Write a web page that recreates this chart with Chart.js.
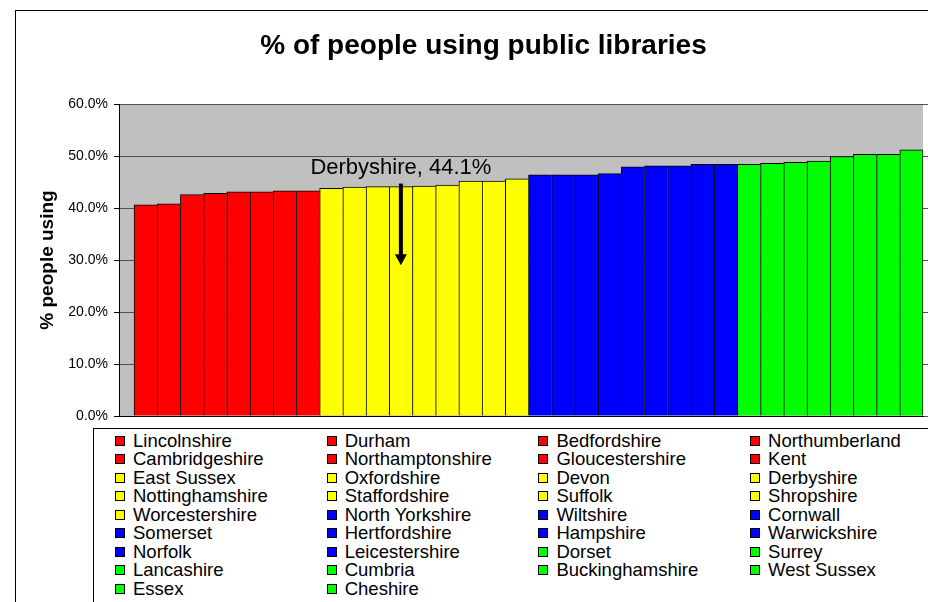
<!DOCTYPE html>
<html>
<head>
<meta charset="utf-8">
<script src="https://cdn.jsdelivr.net/npm/chart.js@4"></script>
<style>
  body { margin: 0; background: #fff; font-family: "Liberation Sans", Arial, sans-serif; }
  #wrap { position: relative; width: 928px; height: 602px; overflow: hidden; }
  #chart { position: absolute; left: 0; top: 0; }
  #frame { position: absolute; left: 15px; top: 10px; width: 1000px; height: 700px;
           border-left: 1px solid #000; border-top: 1px solid #000; }
  #title { position: absolute; left: 0; top: 31.3px; width: 967px; text-align: center;
           font-weight: bold; font-size: 28px; line-height: 28px; }
  #legend { position: absolute; left: 93px; top: 428px; width: 1000px; height: 300px;
            border-left: 1px solid #000; border-top: 1px solid #000; background: #fff;
            box-sizing: border-box; padding: 2.6px 0 0 21px;
            display: grid; grid-template-columns: repeat(4, 211.7px); grid-auto-rows: 18.55px;
            font-size: 18.5px; line-height: 18.55px; }
  #legend .item { white-space: nowrap; }
  #legend .sw { display: inline-block; width: 8px; height: 8px; border: 1px solid #000;
                margin-right: 8px; vertical-align: 1px; }
</style>
</head>
<body>
<div id="wrap">
  <canvas id="chart" width="928" height="602"></canvas>
  <div id="frame"></div>
  <div id="title">% of people using public libraries</div>
  <div id="legend"></div>
</div>
<script>
// counties, sorted by share of people using public libraries
const counties = [
  'Lincolnshire', 'Durham', 'Bedfordshire', 'Northumberland',
  'Cambridgeshire', 'Northamptonshire', 'Gloucestershire', 'Kent',
  'East Sussex', 'Oxfordshire', 'Devon', 'Derbyshire',
  'Nottinghamshire', 'Staffordshire', 'Suffolk', 'Shropshire',
  'Worcestershire', 'North Yorkshire', 'Wiltshire', 'Cornwall',
  'Somerset', 'Hertfordshire', 'Hampshire', 'Warwickshire',
  'Norfolk', 'Leicestershire', 'Dorset', 'Surrey',
  'Lancashire', 'Cumbria', 'Buckinghamshire', 'West Sussex',
  'Essex', 'Cheshire'
];
const pctUsing = [
  40.6, 40.8, 42.6, 42.8, 43.1, 43.1, 43.3, 43.3,
  43.8, 44.0, 44.1, 44.1, 44.2, 44.4, 45.2, 45.2, 45.6,
  46.4, 46.4, 46.4, 46.6, 47.9, 48.1, 48.1, 48.4, 48.4,
  48.4, 48.6, 48.8, 49.0, 49.9, 50.3, 50.3, 51.2
];
// quartile group for each county (0 = lowest)
const quartile = [
  0, 0, 0, 0, 0, 0, 0, 0,
  1, 1, 1, 1, 1, 1, 1, 1, 1,
  2, 2, 2, 2, 2, 2, 2, 2, 2,
  3, 3, 3, 3, 3, 3, 3, 3
];
const quartileColours = ['#FF0000', '#FFFF00', '#0000FF', '#00FF00'];
const yTicks = [0, 10, 20, 30, 40, 50, 60];

// callout
const calloutCounty = 'Derbyshire';
const calloutText = 'Derbyshire, 44.1%';
const calloutTextAt = 46.45;
const arrowFrom = 44.7;
const arrowTo = 29.0;

const barColours = quartile.map(q => quartileColours[q]);
const lastIdx = pctUsing.length - 1;

// legend (html grid, 4 columns)
const legendEl = document.getElementById('legend');
counties.forEach((name, i) => {
  const item = document.createElement('div');
  item.className = 'item';
  const sw = document.createElement('span');
  sw.className = 'sw';
  sw.style.background = barColours[i];
  item.appendChild(sw);
  item.appendChild(document.createTextNode(name));
  legendEl.appendChild(item);
});

const plotBackground = {
  id: 'plotBackground',
  beforeDraw(chart) {
    const { ctx, chartArea: a } = chart;
    ctx.save();
    ctx.fillStyle = '#C0C0C0';
    ctx.fillRect(a.left, a.top, a.right - a.left, a.bottom - a.top);
    ctx.restore();
  }
};

const callout = {
  id: 'callout',
  afterDatasetsDraw(chart) {
    const { ctx, scales: { x, y } } = chart;
    const cx = x.getPixelForValue(counties.indexOf(calloutCounty));
    ctx.save();
    ctx.fillStyle = '#000';
    ctx.strokeStyle = '#000';
    ctx.font = '22px "Liberation Sans", Arial, sans-serif';
    ctx.textAlign = 'center';
    ctx.textBaseline = 'alphabetic';
    ctx.fillText(calloutText, cx, y.getPixelForValue(calloutTextAt));

    const y0 = y.getPixelForValue(arrowFrom);
    const y1 = y.getPixelForValue(arrowTo);
    ctx.lineWidth = 4;
    ctx.beginPath();
    ctx.moveTo(cx, y0);
    ctx.lineTo(cx, y1 - 8);
    ctx.stroke();
    ctx.beginPath();
    ctx.moveTo(cx - 6, y1 - 11);
    ctx.lineTo(cx + 6, y1 - 11);
    ctx.lineTo(cx, y1);
    ctx.closePath();
    ctx.fill();
    ctx.restore();
  }
};

new Chart(document.getElementById('chart'), {
  type: 'bar',
  data: {
    datasets: [{
      data: pctUsing.map((v, i) => ({ x: i, y: v })),
      backgroundColor: barColours,
      borderColor: '#000',
      borderWidth: ctx => ({ top: 1, left: 1, right: ctx.dataIndex === lastIdx ? 1 : 0, bottom: 0 }),
      borderSkipped: false,
      barPercentage: 1,
      categoryPercentage: 1
    }]
  },
  options: {
    responsive: false,
    animation: false,
    layout: { padding: { left: 15, right: 0, top: 104, bottom: 186 } },
    plugins: {
      legend: { display: false },
      tooltip: { enabled: false }
    },
    scales: {
      x: {
        type: 'linear',
        min: -1.147,
        max: 33.5,
        offset: false,
        ticks: { display: false },
        grid: { display: false, drawTicks: false },
        border: { display: true, color: '#000', width: 1 }
      },
      y: {
        min: 0,
        max: 60,
        afterBuildTicks: s => { s.ticks = yTicks.map(v => ({ value: v })); },
        afterFit: s => { s.width = 104; },
        ticks: {
          padding: 6,
          color: '#000',
          font: { family: '"Liberation Sans", Arial, sans-serif', size: 14 },
          callback: v => v.toFixed(1) + '%'
        },
        grid: { color: '#505050', tickColor: '#000', tickLength: 5, lineWidth: 1 },
        border: { display: true, color: '#000', width: 1 },
        title: {
          display: true,
          text: '% people using',
          color: '#000',
          padding: { top: 21, bottom: 0 },
          font: { family: '"Liberation Sans", Arial, sans-serif', size: 19, weight: 'bold' }
        }
      },
      y2: {
        position: 'right',
        min: 0,
        max: 60,
        afterBuildTicks: s => { s.ticks = yTicks.map(v => ({ value: v })); },
        ticks: { display: false },
        grid: { drawOnChartArea: false, color: '#505050', tickLength: 5 },
        border: { display: false }
      }
    }
  },
  plugins: [plotBackground, callout]
});
</script>
</body>
</html>
